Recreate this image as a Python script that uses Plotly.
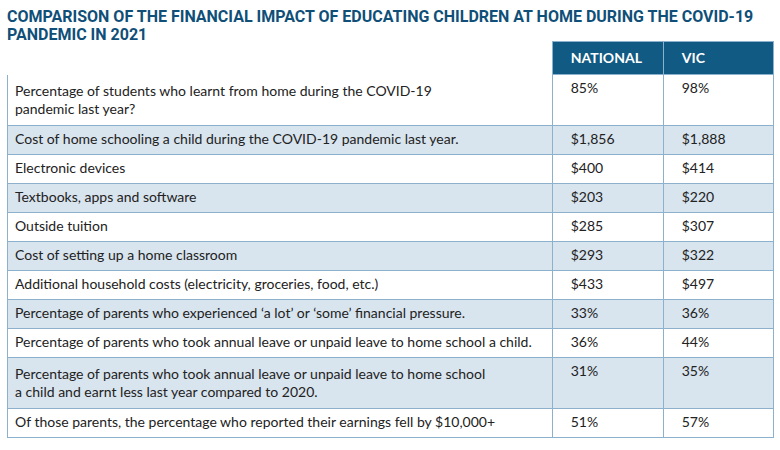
import plotly.graph_objects as go

title_lines = ["COMPARISON OF THE FINANCIAL IMPACT OF EDUCATING CHILDREN AT HOME DURING THE COVID-19",
               "PANDEMIC IN 2021"]
col_headers = ["", "NATIONAL", "VIC"]
measures = [
    "Percentage of students who learnt from home during the COVID-19<br>pandemic last year?",
    "Cost of home schooling a child during the COVID-19 pandemic last year.",
    "Electronic devices",
    "Textbooks, apps and software",
    "Outside tuition",
    "Cost of setting up a home classroom",
    "Additional household costs (electricity, groceries, food, etc.)",
    "Percentage of parents who experienced \u2018a lot\u2019 or \u2018some\u2019 financial pressure.",
    "Percentage of parents who took annual leave or unpaid leave to home school a child.",
    "Percentage of parents who took annual leave or unpaid leave to home school<br>a child and earnt less last year compared to 2020.",
    "Of those parents, the percentage who reported their earnings fell by $10,000+",
]
national = ["85%", "$1,856", "$400", "$203", "$285", "$293", "$433", "33%", "36%", "31%", "51%"]
vic = ["98%", "$1,888", "$414", "$220", "$307", "$322", "$497", "36%", "44%", "35%", "57%"]

W, H = 780, 450
HEADER_BG = "#115a83"
SHADE = "#d8e4ee"
BORDER = "#8db0cd"
TITLE_C = "#0f4f78"
PAD = "\u00a0\u00a0\u00a0"
row_fill = [SHADE if i % 2 == 1 else "white" for i in range(len(measures))]

fig = go.Figure(go.Table(
    domain=dict(x=[7 / W, 773 / W], y=[0, 1 - 41 / H]),
    columnwidth=[545, 111, 110],
    header=dict(
        values=[f"{PAD}<b>{h}</b>" if h else "" for h in col_headers],
        fill_color=["white", HEADER_BG, HEADER_BG],
        line=dict(color=["white", BORDER, BORDER], width=1),
        font=dict(family="Lato", size=14, color="white"),
        align="left",
        height=31,
    ),
    cells=dict(
        values=[measures, [PAD + v for v in national], [PAD + v for v in vic]],
        fill_color=[row_fill, row_fill, row_fill],
        line=dict(color=BORDER, width=1),
        font=dict(family="Lato", size=14, color="#222222"),
        align="left",
        height=29,
    ),
))

for i, line in enumerate(title_lines):
    fig.add_annotation(
        text=f"<b>{line}</b>",
        xref="paper", yref="paper", x=5 / W, y=1 - (5 + 18 * i) / H,
        xanchor="left", yanchor="top", showarrow=False, align="left",
        font=dict(family="Roboto", size=16, color=TITLE_C),
    )

fig.update_layout(
    width=W, height=H,
    margin=dict(l=0, r=0, t=0, b=0),
    paper_bgcolor="white",
)
fig.write_html("out.html", config={"displayModeBar": False},
               post_script="document.body.style.margin='0';")
